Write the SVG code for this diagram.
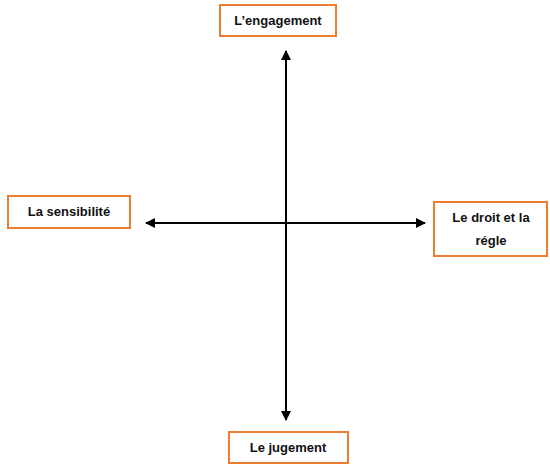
<svg xmlns="http://www.w3.org/2000/svg" width="550" height="464" viewBox="0 0 550 464">
<style>
.box{fill:#fff;stroke:#ED7D31;stroke-width:2}
.lbl{font-family:"Liberation Sans",Arial,sans-serif;font-weight:bold;font-size:13px;fill:#111;text-anchor:middle}
.ax{stroke:#000;stroke-width:2;fill:none}
</style>
<defs>
<marker id="ah" viewBox="0 0 10 10" refX="9" refY="5" markerWidth="5" markerHeight="5" orient="auto-start-reverse" markerUnits="strokeWidth">
<path d="M0,0 L10,5 L0,10 z" fill="#000"/>
</marker>
</defs>
<rect width="550" height="464" fill="#fff"/>
<g id="connectors">
<line class="ax" x1="286" y1="51" x2="286" y2="420" marker-start="url(#ah)" marker-end="url(#ah)"/>
<line class="ax" x1="146" y1="223" x2="425" y2="223" marker-start="url(#ah)" marker-end="url(#ah)"/>
</g>
<g id="top">
<rect class="box" x="220" y="5" width="116" height="31"/>
<text class="lbl" x="278" y="25">L’engagement</text>
</g>
<g id="left">
<rect class="box" x="8" y="196" width="122" height="32"/>
<text class="lbl" x="69" y="216">La sensibilité</text>
</g>
<g id="right">
<rect class="box" x="434" y="202" width="113" height="54"/>
<text class="lbl" x="491" y="222">Le droit et la</text>
<text class="lbl" x="491" y="245">régle</text>
</g>
<g id="bottom">
<rect class="box" x="229" y="432" width="119" height="31"/>
<text class="lbl" x="288" y="452">Le jugement</text>
</g>
</svg>
